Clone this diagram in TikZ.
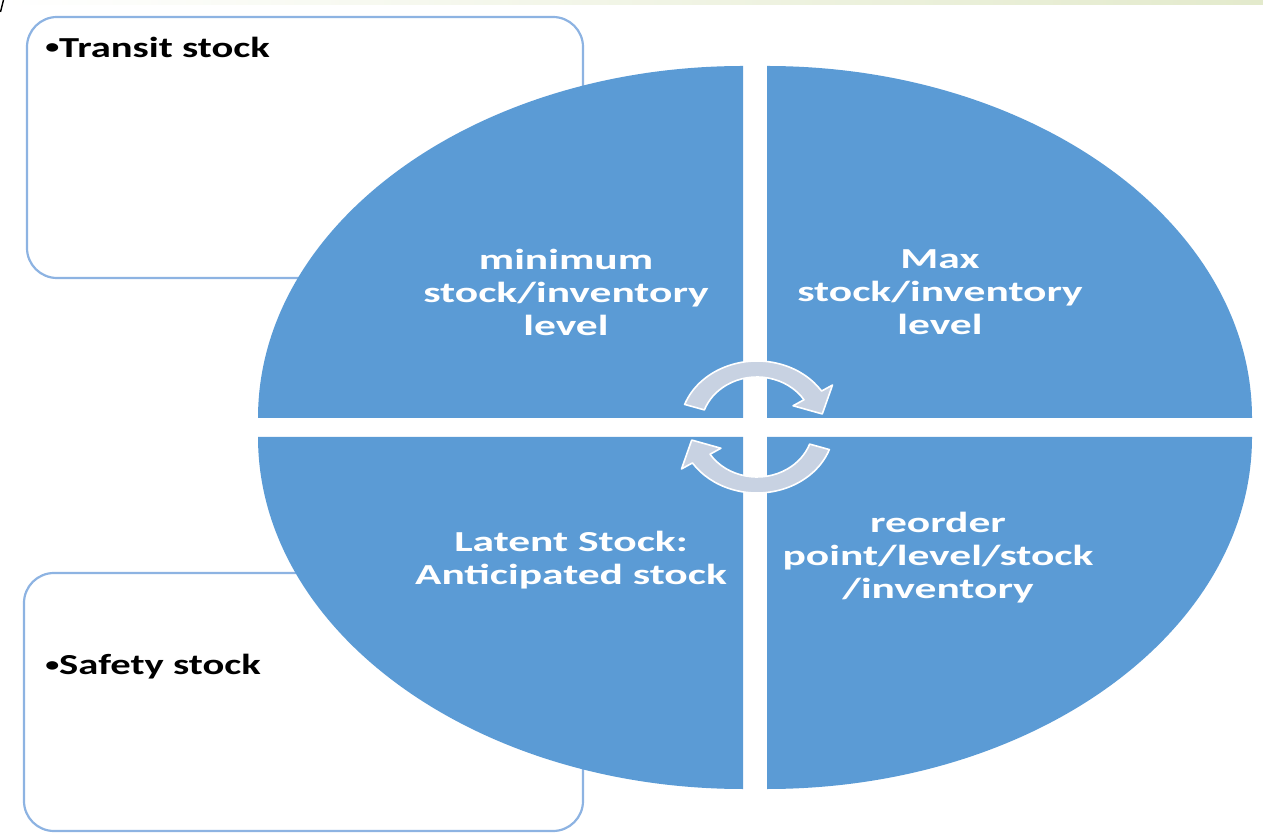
\documentclass[tikz,border=0pt]{standalone}
\usepackage{fontspec}
\setmainfont{Carlito}
\usepackage{tikz}
\usetikzlibrary{calc}

\definecolor{quadblue}{HTML}{5B9BD5}
\definecolor{boxline}{HTML}{8DB3E2}
\definecolor{arrowgray}{HTML}{C8D2E2}
\definecolor{bandgreen}{HTML}{E3EACC}

\newcommand{\smallbullet}{\raisebox{3.5pt}{\fontsize{20}{20}\selectfont•}}

\begin{document}
\begin{tikzpicture}[x=1pt,y=1pt,
        quad/.style={fill=quadblue},
        sidebox/.style={draw=boxline,line width=2.2pt,fill=white,rounded corners=30pt},
        cyclearrow/.style={fill=arrowgray,draw=white,line width=1.6pt,line join=round},
        quadtext/.style={text=white,align=center,xscale=1.5,
            font=\fontsize{29}{33}\selectfont\bfseries},
        boxtext/.style={text=black,anchor=west,xscale=1.4,inner sep=0pt,
            font=\fontsize{29}{33}\selectfont\bfseries}]

        \useasboundingbox (0,0) rectangle (1263,833);
        \fill[left color=white,right color=bandgreen] (0,828) rectangle (1263,833);
        \draw[line width=1.4pt] (0.5,821) -- (3.5,833);

        % Side boxes
        \draw[sidebox] (27,555) rectangle (583,816);
        \draw[sidebox] (24,2) rectangle (583,260);
        \node[boxtext] (transit) at (45,786) {\smallbullet Transit stock};
        \node[boxtext] (safety) at (45,166) {\smallbullet Safety stock};

        % Quadrants
        \foreach \cx/\cy/\a in {743/415/90, 767/415/0, 743/396/180, 767/396/270} {
            \fill[quad] (\cx,\cy) -- ++(\a:485pt and 352pt)
                arc[start angle=\a, end angle=\a+90, x radius=485pt, y radius=352pt] -- cycle;
        }

        % Cycle arrows
        \def \cyclearc#1{
            \begin{scope}[shift={(757,406)},rotate=#1]
                \draw[cyclearrow] (160:77pt and 66pt)
                    arc[start angle=160, end angle=33, x radius=77pt, y radius=66pt]
                    -- (33:90pt and 77pt) -- (13:67pt and 58pt) -- (33:43pt and 39pt)
                    -- (33:56pt and 50pt)
                    arc[start angle=33, end angle=160, x radius=56pt, y radius=50pt]
                    -- cycle;
            \end{scope}
        }
        \cyclearc{0}
        \cyclearc{180}

        % Quadrant labels
        \node[quadtext] (minlevel) at (566,541) {minimum\\stock/inventory\\level};
        \node[quadtext] (maxlevel) at (940,541) {Max\\stock/inventory\\level};
        \node[quadtext] (latent) at (571,273) {Latent Stock:\\Anticipated stock};
        \node[quadtext] (reorder) at (938,275) {reorder\\point/level/stock\\/inventory};

    \end{tikzpicture}
\end{document}
